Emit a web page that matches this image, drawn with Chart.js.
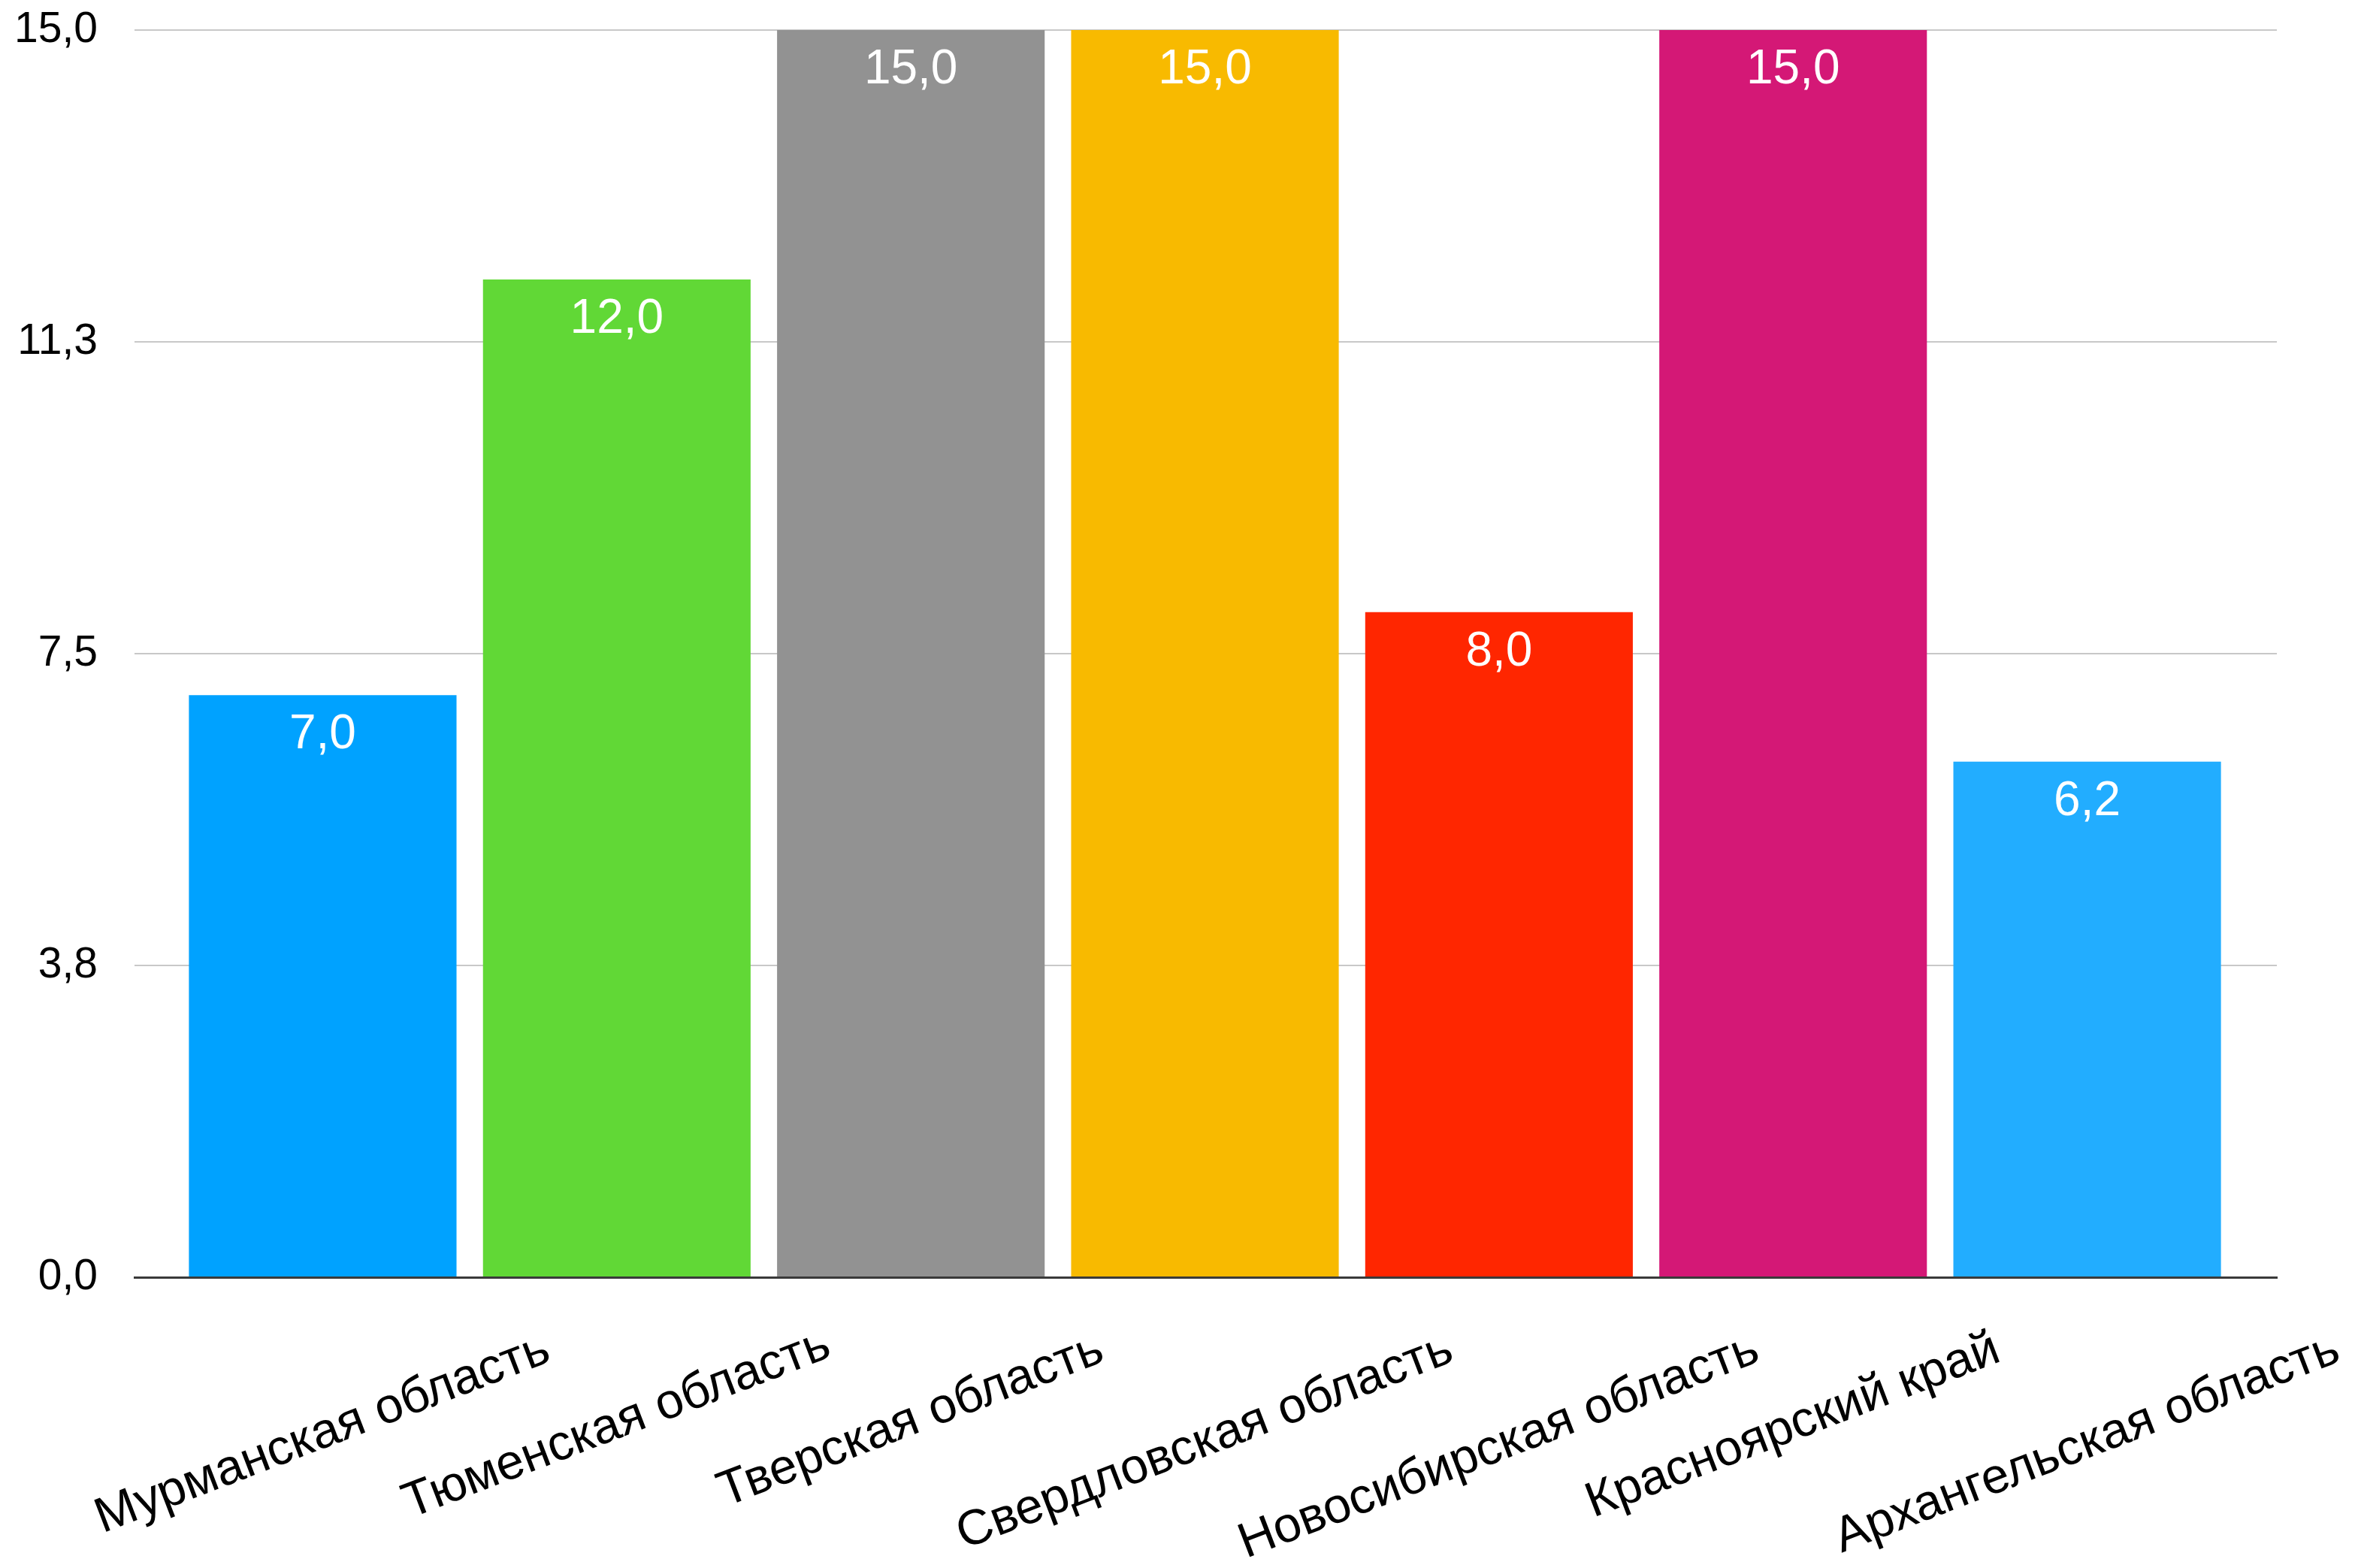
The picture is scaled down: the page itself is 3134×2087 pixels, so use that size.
<!DOCTYPE html>
<html>
<head>
<meta charset="utf-8">
<script src="https://cdn.jsdelivr.net/npm/chart.js@4/dist/chart.umd.min.js"></script>
<style>
  html, body { margin: 0; padding: 0; background: #ffffff; }
  #wrap { width: 3134px; height: 2087px; }
</style>
</head>
<body>
<div id="wrap"><canvas id="c" width="3134" height="2087"></canvas></div>
<script>
const categories = [
  'Мурманская область',
  'Тюменская область',
  'Тверская область',
  'Свердловская область',
  'Новосибирская область',
  'Красноярский край',
  'Архангельская область'
];
const values = [7.0, 12.0, 15.0, 15.0, 8.0, 15.0, 6.2];
const barColors = ['#00A2FF', '#61D836', '#929292', '#F8BA00', '#FF2600', '#D41876', '#22ADFF'];
const yTicks = [0, 3.75, 7.5, 11.25, 15];

const FONT = '"Helvetica Neue", Helvetica, "Liberation Sans", Arial, sans-serif';
const fmt = v => Number(v).toFixed(1).replace('.', ',');

const points = values.map((v, i) => ({ x: i, y: v }));

const valueLabels = {
  id: 'valueLabels',
  afterDatasetsDraw(chart) {
    const ctx = chart.ctx;
    const meta = chart.getDatasetMeta(0);
    ctx.save();
    ctx.fillStyle = '#ffffff';
    ctx.font = '64px ' + FONT;
    ctx.textAlign = 'center';
    ctx.textBaseline = 'alphabetic';
    meta.data.forEach((el, i) => {
      ctx.fillText(fmt(values[i]), el.x, el.y + 71);
    });
    ctx.restore();
  }
};

const categoryLabels = {
  id: 'categoryLabels',
  afterDraw(chart) {
    const ctx = chart.ctx;
    const xs = chart.scales.x;
    const angle = 21 * Math.PI / 180;
    const top = chart.chartArea.bottom + 64;
    ctx.save();
    ctx.fillStyle = '#000000';
    ctx.font = '66px ' + FONT;
    ctx.textAlign = 'center';
    ctx.textBaseline = 'middle';
    categories.forEach((label, i) => {
      const m = ctx.measureText(label);
      const w = m.width;
      const h = m.actualBoundingBoxAscent + m.actualBoundingBoxDescent;
      const bh = w * Math.sin(angle) + h * Math.cos(angle);
      const cx = xs.getPixelForValue(i);
      const cy = top + bh / 2;
      ctx.save();
      ctx.translate(cx, cy);
      ctx.rotate(-angle);
      ctx.fillText(label, 0, 0);
      ctx.restore();
    });
    ctx.restore();
  }
};

new Chart(document.getElementById('c'), {
  type: 'bar',
  data: {
    datasets: [{
      data: points,
      backgroundColor: barColors,
      borderWidth: 0,
      categoryPercentage: 1.0,
      barPercentage: 0.91
    }]
  },
  options: {
    responsive: false,
    animation: false,
    devicePixelRatio: 1,
    layout: { padding: { left: 0, right: 104, top: 40, bottom: 387 } },
    plugins: {
      legend: { display: false },
      tooltip: { enabled: false },
      title: { display: false }
    },
    scales: {
      x: {
        type: 'linear',
        min: -0.64,
        max: 6.645,
        offset: false,
        afterBuildTicks(scale) { scale.ticks = categories.map((c, i) => ({ value: i })); },
        grid: { display: false, drawTicks: false },
        border: { display: true, color: '#3a3a3a', width: 3, z: 1 },
        ticks: { display: false },
        afterFit(scale) { scale.height = 0; }
      },
      y: {
        min: 0,
        max: 15,
        afterBuildTicks(scale) { scale.ticks = yTicks.map(v => ({ value: v })); },
        afterFit(scale) {
          scale.width = 179;
          scale.paddingTop = 0;
          scale.paddingBottom = 0;
        },
        grid: { color: '#c8c8c8', lineWidth: 2, drawTicks: false },
        border: { display: false },
        ticks: {
          padding: 49,
          color: '#000000',
          font: { family: FONT, size: 57 },
          callback: v => fmt(v)
        }
      }
    }
  },
  plugins: [valueLabels, categoryLabels]
});
</script>
</body>
</html>
